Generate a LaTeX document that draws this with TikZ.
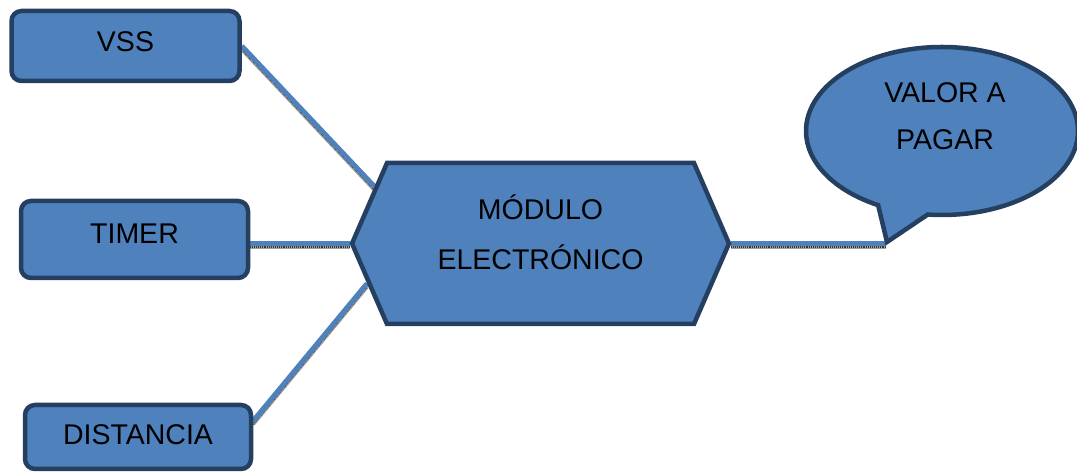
\documentclass[tikz,border=0pt]{standalone}
\usepackage{fontspec}
\setmainfont{Liberation Sans}
\usetikzlibrary{shapes.symbols,shapes.callouts,backgrounds}
\definecolor{boxfill}{RGB}{79,129,189}
\definecolor{boxline}{RGB}{36,63,96}
\definecolor{shadelight}{RGB}{160,160,160}
\definecolor{shadedark}{RGB}{55,55,55}
\begin{document}
\begin{tikzpicture}[x=1pt,y=1pt,
  every node/.style={font=\fontsize{28.5}{34}\selectfont, text=black},
  item/.style={draw=boxline, fill=boxfill, line width=4.5pt, rounded corners=10pt, inner sep=0pt},
  shapebox/.style={draw=boxline, fill=boxfill, line width=4.5pt, inner sep=0pt},
  wire/.style={draw=boxfill, line width=5pt,
    preaction={draw=shadelight, line width=4pt, transform canvas={yshift=-3.2pt}},
    preaction={draw=shadedark, line width=1.4pt, dash pattern=on 0.8pt off 1.1pt, transform canvas={yshift=-3.6pt}}}]
\useasboundingbox (0,0) rectangle (1077,473);

% input blocks
\node[item, minimum width=228pt, minimum height=70pt, text depth=8pt] (vss) at (125.5,427) {VSS};
\node[item, minimum width=227pt, minimum height=77pt, text depth=12pt] (timer) at (134.5,233.5) {TIMER};
\node[item, minimum width=226pt, minimum height=64pt, text depth=4pt] (dist) at (138,36) {DISTANCIA};

% central module
\node[shapebox, signal, signal to=east and west, signal pointer angle=133,
      minimum width=377pt, minimum height=161pt] (hex) at (540.5,229.5) {};
\node[align=center, font=\fontsize{28.5}{50}\selectfont] (hexlabel) at (540.5,240.5) {MÓDULO\\ELECTRÓNICO};

% output callout
\node[shapebox, ellipse callout, minimum width=272pt, minimum height=168pt,
      callout absolute pointer={(887,231)}, callout pointer arc=22] (pay) at (942,342) {};
\node[align=center, font=\fontsize{28.5}{47}\selectfont] (paylabel) at (945,356.5) {VALOR A\\PAGAR};
\coordinate (tip) at (pay.pointer);

% connectors
\begin{scope}[on background layer]
  \draw[wire] (vss.east) -- (hex.161.3);
  \draw[wire] (timer.east |- hex.west) -- (hex.west);
  \draw[wire] (dist.8) -- (hex.193.3);
  \draw[wire] (hex.east) -- (hex.east -| tip);
\end{scope}
\end{tikzpicture}
\end{document}
